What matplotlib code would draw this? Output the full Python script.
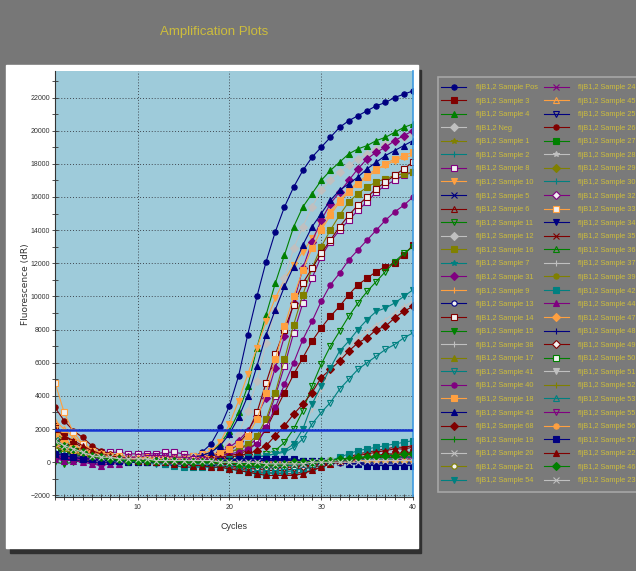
import matplotlib
matplotlib.use('Agg')
import matplotlib.pyplot as plt
import matplotlib.patches as patches
import numpy as np

# values in hundreds of dR
SCALE = 100
cycles = np.arange(1, 41)
threshold = 1950

samples = [
    'Sample Pos', 'Sample 3', 'Sample 4', 'Neg', 'Sample 1', 'Sample 2', 'Sample 8', 'Sample 10',
    'Sample 5', 'Sample 6', 'Sample 11', 'Sample 12', 'Sample 16', 'Sample 7', 'Sample 31', 'Sample 9',
    'Sample 13', 'Sample 14', 'Sample 15', 'Sample 38', 'Sample 17', 'Sample 41', 'Sample 40', 'Sample 18',
    'Sample 43', 'Sample 68', 'Sample 19', 'Sample 20', 'Sample 21', 'Sample 54',
    'Sample 24', 'Sample 45', 'Sample 25', 'Sample 26', 'Sample 27', 'Sample 28', 'Sample 29', 'Sample 30',
    'Sample 32', 'Sample 33', 'Sample 34', 'Sample 35', 'Sample 36', 'Sample 37', 'Sample 39', 'Sample 42',
    'Sample 44', 'Sample 47', 'Sample 48', 'Sample 49', 'Sample 50', 'Sample 51', 'Sample 52', 'Sample 53',
    'Sample 55', 'Sample 56', 'Sample 57', 'Sample 22', 'Sample 46', 'Sample 23',
]

markers = [
    'o', 's', '^', 'D', '*', '+', 's', 'v', 'x', '^', 'v', 'D', 's', '*', 'D',
    '+', 'o', 's', 'v', '+', '^', 'v', 'o', 's', '^', 'D', '+', 'x', 'o', 'v',
    'x', '^', 'v', 'o', 's', '*', 'D', '+', 'D', 's', 'v', 'x', '^', '+', 'o',
    's', '^', 'D', '+', 'D', 's', 'v', '+', '^', 'v', 'o', 's', '^', 'D', 'x',
]
hollow = {'Sample 8', 'Sample 6', 'Sample 11', 'Sample 13', 'Sample 14', 'Sample 41', 'Sample 21',
          'Sample 45', 'Sample 25', 'Sample 32', 'Sample 33', 'Sample 36', 'Sample 49', 'Sample 50',
          'Sample 53', 'Sample 55'}

palette = ['#000080', '#800000', '#008000', '#c0c0c0', '#808000', '#008080', '#800080', '#ffa040']

fluor = [
    # Pos
    [12, 8, 6, 4, 3, 3, 2, 2, 2, 1, 1, 1, 2, 2, 2, 3, 6, 11, 21, 34,
     52, 77, 100, 121, 139, 154, 166, 176, 184, 190, 196, 202, 206, 209, 212, 215, 217, 220, 222, 224],
    # 3
    [22, 16, 12, 9, 6, 4, 3, 2, 2, 1, 1, 1, 1, 1, 1, 1, 2, 2, 3, 4,
     5, 7, 12, 20, 31, 42, 53, 63, 73, 81, 88, 94, 101, 107, 111, 115, 118, 120, 125, 131],
    # 4
    [16, 11, 8, 5, 3, 2, 2, 1, 1, 1, 1, 1, 1, 2, 2, 3, 4, 6, 11, 19,
     30, 46, 69, 89, 108, 125, 142, 154, 162, 170, 176, 181, 186, 189, 191, 194, 196, 199, 202, 204],
    # Neg
    [9, 7, 5, 4, 3, 2, 2, 1, 1, 1, 1, 1, 1, 1, 0, 0, 0, 0, 0, 0,
     0, 0, 0, 0, 0, 0, 0, 0, 0, 0, 0, 0, 1, 1, 1, 1, 1, 1, 1, 1],
    # 1
    [17, 13, 10, 7, 5, 4, 3, 3, 2, 2, 2, 2, 1, 1, 1, 1, 1, 1, 0, 0,
     0, 0, 0, 0, 0, 0, 0, 0, 0, 0, 0, 0, 1, 1, 1, 1, 1, 1, 1, 1],
    # 2
    [11, 8, 6, 4, 3, 2, 2, 1, 1, 1, 0, 0, 0, -1, -1, -1, -1, -1, -1, -2,
     -2, -2, -2, -2, -2, -1, -1, -1, 0, 0, 1, 1, 2, 2, 2, 3, 3, 3, 3, 4],
    # 8
    [8, 6, 5, 5, 6, 6, 6, 6, 5, 5, 5, 5, 6, 6, 5, 4, 4, 4, 5, 6,
     8, 10, 14, 24, 40, 58, 78, 96, 111, 124, 133, 140, 146, 152, 157, 163, 167, 170, 173, 175],
    # 10
    [20, 14, 9, 6, 4, 3, 3, 2, 2, 2, 2, 2, 2, 3, 3, 4, 5, 7, 12, 23,
     37, 53, 69, 85, 99, 110, 119, 127, 135, 143, 151, 158, 164, 169, 173, 177, 179, 182, 184, 185],
    # 5
    [15, 11, 8, 6, 4, 3, 2, 2, 1, 1, 1, 1, 0, 0, 0, 0, 0, 0, 0, 0,
     1, 1, 1, 1, 1, 1, 1, 0, 0, 0, 0, 0, 0, -1, -1, -1, -1, -1, -1, -1],
    # 6
    [13, 10, 8, 6, 4, 3, 3, 2, 2, 2, 2, 1, 1, 1, 1, 0, 0, 0, 0, -1,
     -1, -2, -2, -2, -2, -2, -2, -1, -1, 0, 0, 1, 1, 2, 2, 3, 3, 3, 4, 4],
    # 11
    [8, 6, 4, 3, 2, 1, 1, 0, 0, 0, 0, 0, 0, 1, 1, 1, 1, 1, 1, 2,
     2, 3, 4, 5, 7, 12, 20, 31, 46, 59, 70, 79, 88, 96, 103, 109, 115, 121, 126, 130],
    # 12
    [14, 10, 7, 5, 4, 3, 3, 2, 2, 2, 2, 2, 2, 2, 3, 3, 4, 5, 7, 11,
     17, 31, 49, 72, 92, 111, 129, 142, 154, 164, 170, 175, 179, 183, 186, 189, 192, 194, 196, 198],
    # 16
    [11, 8, 6, 4, 3, 3, 2, 2, 2, 2, 1, 1, 1, 1, 2, 2, 2, 3, 4, 6,
     8, 11, 16, 26, 42, 62, 83, 101, 117, 130, 140, 149, 157, 162, 166, 169, 171, 173, 174, 175],
    # 7
    [9, 7, 5, 4, 3, 2, 2, 1, 1, 0, 0, 0, -1, -2, -3, -3, -2, -2, -2, -2,
     -2, -3, -3, -3, -2, -2, -1, -1, 0, 0, 1, 1, 2, 3, 3, 4, 4, 5, 5, 6],
    # 31
    [3, 2, 2, 1, 0, -1, 0, 1, 1, 1, 1, 1, 1, 1, 2, 2, 3, 4, 6, 9,
     13, 19, 28, 39, 57, 76, 96, 117, 133, 146, 156, 163, 170, 177, 183, 187, 190, 194, 197, 200],
    # 9
    [14, 11, 8, 6, 4, 3, 3, 2, 2, 2, 2, 2, 1, 1, 1, 1, 1, 1, 1, 0,
     0, 0, 0, -1, -1, -1, -1, 0, 0, 0, 1, 1, 1, 1, 2, 2, 2, 2, 2, 2],
    # 13
    [3, 2, 1, 1, 0, 0, 0, 0, 0, 0, 0, 0, 0, 0, 0, 0, 0, 0, 0, 0,
     0, 1, 1, 1, 1, 1, 1, 1, 1, 0, 0, 0, 0, 0, 0, 0, 1, 1, 1, 1],
    # 14
    [10, 8, 6, 5, 4, 3, 2, 2, 2, 2, 1, 1, 1, 2, 2, 2, 3, 4, 5, 7,
     11, 18, 30, 48, 65, 80, 95, 108, 117, 126, 134, 142, 149, 155, 160, 165, 169, 173, 177, 181],
    # 15
    [0, -1, 0, 1, 1, 1, 1, 1, 1, 1, 0, 0, 0, 0, 0, 0, 0, 0, -1, -1,
     -2, -2, -2, -2, -2, -2, -1, -1, 0, 0, 1, 1, 2, 2, 2, 3, 3, 3, 4, 4],
    # 38
    [10, 8, 6, 4, 3, 2, 2, 1, 1, 1, 1, 1, 1, 1, 1, 1, 1, 1, 1, 2,
     2, 3, 4, 5, 6, 8, 12, 20, 32, 44, 55, 63, 69, 75, 79, 83, 86, 90, 94, 97],
    # 17
    [8, 6, 5, 4, 3, 2, 2, 2, 1, 1, 1, 1, 1, 1, 1, 0, 0, 0, 0, 0,
     -1, -1, -1, -1, -1, -1, -1, -1, 0, 0, 0, 0, 0, 1, 1, 1, 1, 1, 2, 2],
    # 41
    [7, 5, 4, 3, 2, 1, 1, 1, 0, 0, 0, 0, -1, -1, -1, 0, 0, 0, 1, 1,
     2, 2, 3, 4, 5, 6, 9, 14, 23, 30, 36, 44, 50, 56, 60, 64, 68, 71, 75, 78],
    # 40
    [4, 3, 2, 2, 1, 1, 1, 1, 1, 1, 1, 1, 1, 1, 1, 2, 2, 3, 4, 5,
     6, 8, 11, 21, 33, 47, 60, 74, 85, 97, 107, 114, 122, 128, 134, 140, 146, 151, 155, 160],
    # 18
    [9, 7, 5, 4, 3, 2, 2, 1, 1, 1, 1, 1, 1, 1, 2, 2, 3, 4, 6, 8,
     11, 16, 26, 42, 62, 82, 100, 116, 129, 140, 149, 157, 163, 168, 172, 176, 180, 183, 185, 187],
    # 43
    [13, 9, 6, 4, 3, 2, 2, 1, 1, 1, 1, 1, 1, 2, 2, 3, 4, 6, 10, 17,
     27, 40, 58, 77, 92, 106, 118, 131, 142, 150, 158, 164, 168, 172, 177, 181, 185, 188, 191, 194],
    # 68
    [12, 9, 7, 5, 4, 3, 2, 2, 1, 1, 1, 1, 1, 1, 1, 1, 1, 2, 2, 3,
     4, 5, 7, 10, 16, 22, 29, 35, 42, 51, 56, 61, 67, 72, 75, 80, 82, 87, 91, 94],
    # 19
    [18, 13, 10, 7, 5, 4, 3, 2, 2, 1, 1, 1, 1, 0, 0, 0, 0, 0, -1, -1,
     -1, -1, -2, -2, -2, -1, -1, -1, 0, 0, 1, 1, 1, 2, 2, 2, 3, 3, 3, 3],
    # 20
    [14, 10, 7, 5, 4, 3, 2, 2, 2, 1, 1, 1, 1, 1, 1, 1, 1, 0, 0, 0,
     0, 0, 0, 0, 0, 0, 0, 0, 0, 0, 0, 1, 1, 1, 1, 1, 2, 2, 2, 2],
    # 21
    [12, 10, 8, 6, 5, 4, 3, 3, 2, 2, 2, 2, 2, 1, 1, 1, 1, 1, 1, 1,
     0, 0, 0, 0, 0, 0, 0, 0, 0, 0, 0, 0, 0, 0, 0, 1, 1, 1, 1, 1],
    # 54
    [6, 5, 4, 3, 2, 1, 1, 0, 0, 0, 0, -1, -1, -1, 0, 0, 0, 1, 1, 2,
     2, 3, 3, 4, 5, 7, 11, 20, 35, 46, 57, 67, 73, 80, 86, 91, 93, 96, 100, 104],
    # 24
    [6, 5, 4, 3, 2, 1, 1, 1, 1, 1, 1, 0, 0, 0, 0, 0, 0, 0, 0, 0,
     0, -1, -1, -1, -1, -1, -1, 0, 0, 0, 0, 1, 1, 1, 1, 1, 2, 2, 2, 2],
    # 45
    [25, 20, 15, 11, 8, 6, 5, 4, 3, 3, 3, 3, 2, 2, 2, 2, 1, 1, 1, 1,
     0, 0, 0, 0, 0, 0, 0, 0, 0, 0, 0, 1, 1, 1, 1, 1, 1, 2, 2, 2],
    # 25
    [12, 9, 7, 5, 3, 2, 2, 1, 1, 1, 1, 0, 0, 0, 0, 0, 0, 0, 0, 1,
     1, 2, 2, 2, 2, 2, 1, 1, 1, 0, 0, 0, -1, -1, -1, -2, -2, -2, -2, -2],
    # 26
    [33, 25, 19, 15, 10, 7, 5, 4, 3, 2, 2, 1, 1, 1, 0, 0, 0, -1, -2, -3,
     -4, -5, -6, -6, -7, -7, -7, -6, -5, -3, -1, 1, 3, 5, 6, 7, 8, 9, 9, 10],
    # 27
    [16, 12, 9, 7, 5, 4, 3, 3, 2, 2, 2, 1, 1, 1, 1, 1, 0, 0, 0, 0,
     -1, -1, -1, -2, -2, -2, -1, -1, 0, 0, 1, 1, 2, 2, 3, 3, 4, 4, 5, 5],
    # 28
    [11, 9, 7, 5, 4, 3, 2, 2, 1, 1, 1, 1, 1, 1, 1, 1, 0, 0, 0, 0,
     0, -1, -1, -1, -1, -1, -1, -1, -1, 0, 0, 0, 0, 1, 1, 1, 1, 1, 1, 1],
    # 29
    [10, 8, 6, 5, 4, 3, 3, 2, 2, 2, 1, 1, 1, 1, 1, 1, 0, 0, 0, 0,
     0, 0, 0, -1, -1, -1, -1, -1, 0, 0, 0, 0, 0, 1, 1, 1, 1, 1, 2, 2],
    # 30
    [13, 10, 7, 5, 4, 3, 2, 2, 1, 1, 1, 0, 0, 0, -1, -1, -1, -1, -1, -1,
     -1, -1, -1, -1, -1, -1, -1, 0, 0, 0, 1, 1, 1, 2, 2, 2, 2, 3, 3, 3],
    # 32
    [4, 3, 3, 2, 2, 2, 2, 2, 3, 3, 3, 3, 3, 2, 2, 2, 1, 1, 1, 0,
     0, 0, 0, -1, -1, -1, -1, -1, 0, 0, 0, 0, 1, 1, 1, 1, 1, 2, 2, 2],
    # 33
    [48, 30, 18, 11, 7, 5, 4, 4, 3, 3, 3, 2, 2, 2, 2, 2, 1, 1, 1, 1,
     0, 0, -1, -1, -1, -1, -1, 0, 0, 0, 1, 1, 2, 2, 3, 3, 3, 4, 4, 4],
    # 34
    [10, 8, 6, 4, 3, 2, 1, 1, 1, 0, 0, 0, 0, 0, 0, 0, 0, 0, 1, 1,
     2, 2, 2, 2, 2, 1, 1, 1, 1, 0, 0, 0, 0, 0, 0, 0, 0, 0, 0, 0],
    # 35
    [15, 12, 9, 7, 5, 4, 3, 2, 2, 2, 1, 1, 1, 1, 0, 0, 0, -1, -1, -2,
     -3, -4, -4, -5, -5, -5, -4, -4, -3, -2, -1, 0, 1, 2, 3, 4, 5, 5, 6, 6],
    # 36
    [9, 7, 5, 4, 3, 2, 2, 1, 1, 1, 1, 1, 0, 0, 0, 0, 0, 0, 0, -1,
     -1, -1, -1, -1, -1, -1, -1, 0, 0, 0, 1, 1, 1, 2, 2, 2, 3, 3, 3, 3],
    # 37
    [12, 9, 7, 5, 4, 3, 3, 2, 2, 2, 2, 1, 1, 1, 1, 1, 1, 1, 1, 1,
     1, 1, 1, 1, 1, 1, 0, 0, 0, 0, 0, 0, 0, 0, 0, 0, 0, 0, 0, 0],
    # 39
    [7, 6, 5, 4, 3, 3, 2, 2, 2, 1, 1, 1, 1, 1, 0, 0, 0, 0, 0, 0,
     0, 0, 0, 0, 0, 0, 0, 0, 0, 0, 1, 1, 1, 1, 1, 1, 1, 2, 2, 2],
    # 42
    [14, 11, 8, 6, 5, 4, 3, 2, 1, 1, 0, 0, -1, -2, -3, -3, -3, -3, -3, -4,
     -5, -6, -7, -7, -6, -6, -5, -4, -3, -1, 1, 3, 5, 7, 8, 9, 10, 11, 12, 13],
    # 44
    [2, 1, 1, 0, -1, -2, -1, -1, 0, 0, 0, 0, 0, 0, 0, 0, 0, 0, 0, 0,
     0, 0, 0, 0, 0, 0, 0, 0, 0, 1, 1, 1, 2, 2, 2, 2, 3, 3, 3, 3],
    # 47
    [17, 13, 10, 8, 6, 5, 4, 3, 2, 2, 2, 1, 1, 1, 1, 1, 1, 0, 0, 0,
     0, 0, 0, 0, 0, 0, 0, 0, 0, 0, 1, 1, 1, 1, 1, 1, 2, 2, 2, 2],
    # 48
    [8, 6, 5, 4, 3, 2, 2, 1, 1, 1, 1, 1, 1, 1, 0, 0, 0, 0, 0, 1,
     1, 1, 1, 1, 1, 1, 1, 1, 0, 0, 0, 0, 0, 0, 0, 0, 0, 0, 0, 0],
    # 49
    [10, 8, 6, 5, 4, 3, 2, 2, 2, 1, 1, 1, 1, 0, 0, 0, 0, 0, -1, -1,
     -2, -2, -3, -3, -3, -3, -3, -2, -2, -1, 0, 1, 1, 2, 3, 3, 4, 4, 5, 5],
    # 50
    [7, 6, 5, 4, 3, 3, 2, 2, 2, 1, 1, 1, 1, 1, 0, 0, 0, 0, 0, 0,
     -1, -1, -1, -1, -1, -1, -1, 0, 0, 0, 0, 1, 1, 1, 2, 2, 2, 2, 2, 3],
    # 51
    [10, 8, 6, 4, 3, 3, 2, 2, 2, 1, 1, 1, 1, 1, 1, 0, 0, 0, 0, 0,
     0, 0, 0, 0, 0, 0, 0, 0, 0, 0, 1, 1, 1, 1, 1, 2, 2, 2, 2, 2],
    # 52
    [9, 7, 6, 4, 3, 3, 2, 2, 2, 1, 1, 1, 1, 1, 1, 1, 1, 0, 0, 0,
     0, 0, 0, 0, 0, 0, 0, 0, 0, 0, 0, 0, 0, 0, 1, 1, 1, 1, 1, 1],
    # 53
    [6, 5, 4, 3, 2, 2, 1, 1, 1, 0, 0, 0, -1, -1, -1, -1, -1, -1, -2, -2,
     -2, -3, -3, -3, -3, -2, -2, -1, -1, 0, 0, 1, 1, 1, 2, 2, 2, 2, 3, 3],
    # 55
    [5, 4, 3, 3, 2, 2, 2, 2, 3, 3, 4, 4, 4, 3, 3, 2, 2, 1, 1, 1,
     0, 0, 0, 0, 0, -1, -1, -1, 0, 0, 0, 0, 1, 1, 1, 1, 1, 1, 2, 2],
    # 56
    [11, 9, 7, 5, 4, 3, 3, 2, 2, 2, 2, 1, 1, 1, 1, 1, 1, 1, 1, 1,
     0, 0, 0, 0, 0, 0, 0, 0, 0, 0, 0, 0, 0, 1, 1, 1, 1, 1, 1, 1],
    # 57
    [5, 4, 3, 2, 2, 1, 1, 1, 0, 0, 0, 0, 0, 0, 0, 0, 0, 0, 1, 1,
     1, 2, 2, 2, 2, 2, 2, 1, 1, 1, 0, 0, -1, -1, -2, -2, -2, -2, -2, -2],
    # 22
    [20, 16, 13, 10, 7, 5, 4, 3, 2, 1, 1, 0, 0, -1, -1, -2, -2, -3, -3, -4,
     -5, -6, -7, -8, -8, -8, -8, -7, -5, -3, -1, 1, 2, 4, 5, 6, 7, 8, 8, 9],
    # 46
    [12, 10, 8, 6, 4, 3, 2, 2, 1, 1, 1, 1, 1, 1, 0, 0, 0, 0, 0, 0,
     -1, -1, -1, -1, -1, -1, 0, 0, 0, 1, 1, 2, 2, 3, 3, 4, 4, 4, 5, 5],
    # 23
    [13, 10, 8, 6, 4, 3, 3, 2, 2, 2, 2, 1, 1, 1, 1, 1, 1, 1, 0, 0,
     0, 0, 0, -1, -1, -1, -1, -1, 0, 0, 0, 0, 0, 0, 1, 1, 1, 1, 1, 1],
]

bad = [samples[i] for i, v in enumerate(fluor) if len(v) != len(cycles)]
if bad or len(fluor) != len(samples):
    raise ValueError(f'bad series: {bad} {len(fluor)}')

narrow = ['Liberation Sans Narrow', 'Liberation Sans', 'DejaVu Sans']
fig_bg = '#777777'
yellow = '#cdbd3c'

fig = plt.figure(figsize=(6.36, 5.71), dpi=100, facecolor=fig_bg)

# white panel with a dark drop shadow, and the legend box
fig.patches.append(patches.Rectangle((10 / 636, 1 - 553 / 571), 411 / 636, 483 / 571,
                                     transform=fig.transFigure, color='#303030', zorder=0))
fig.patches.append(patches.Rectangle((6 / 636, 1 - 548 / 571), 412 / 636, 483 / 571,
                                     transform=fig.transFigure, color='white', zorder=0.5))
fig.patches.append(patches.Rectangle((438 / 636, 1 - 492 / 571), 300 / 636, 415 / 571,
                                     transform=fig.transFigure, facecolor='#7a7a7a',
                                     edgecolor='#a6a6a6', lw=1.2, zorder=0.5))

fig.text(214 / 636, 1 - 32 / 571, 'Amplification Plots', color=yellow, fontsize=9.5,
         ha='center', va='center', family=narrow)

ax = fig.add_axes([55 / 636, 1 - 497 / 571, 358 / 636, 426 / 571])
ax.set_zorder(2)
ax.set_facecolor('#9ecbda')

handles = []
for i, (name, vals) in enumerate(zip(samples, fluor)):
    col = palette[i % len(palette)]
    mk = markers[i]
    if name in hollow:
        mfc = 'none' if mk in ('^', 'v') else '#f2f2f2'
    else:
        mfc = col
    line, = ax.plot(cycles, np.array(vals) * SCALE, color=col, lw=0.8, marker=mk,
                    ms=3.8, mfc=mfc, mec=col, mew=0.8)
    handles.append(line)

ax.axhline(threshold, color='#1434d2', lw=1.8, zorder=5)

ax.set_xlim(1, 40)
ax.set_ylim(-2100, 23600)
ax.set_xticks([10, 20, 30, 40])
ax.set_xticks(np.arange(1, 41), minor=True)
ax.set_yticks(np.arange(-2000, 22001, 2000))
ax.set_yticks(np.arange(-2000, 23001, 1000), minor=True)
ax.tick_params(which='both', direction='inout', length=4, width=0.6, colors='#333333',
               labelsize=5, pad=1.5)
ax.tick_params(axis='x', pad=3)
for lab in ax.get_xticklabels() + ax.get_yticklabels():
    lab.set_family(narrow)
ax.grid(True, which='major', color='#404850', linestyle=(0, (1, 2)), linewidth=0.7)
ax.spines['top'].set_visible(False)
ax.spines['right'].set_color('#3d9ae0')
ax.spines['right'].set_linewidth(1.2)
ax.spines['left'].set_color('#333333')
ax.spines['bottom'].set_color('#333333')

ax.set_xlabel('Cycles', fontsize=6.5, color='#333333', family=narrow, labelpad=8)
ax.set_ylabel('Fluorescence (dR)', fontsize=6.5, color='#333333', labelpad=7)
ax.yaxis.set_label_coords(-25 / 358, 0.5)

labels = ['fljB1,2 ' + s for s in samples]
leg = fig.legend(handles, labels, ncol=2, loc='upper left',
                 bbox_to_anchor=(441 / 636, 1 - 84 / 571), borderaxespad=0,
                 prop={'family': narrow, 'size': 5.3}, labelcolor=yellow,
                 frameon=False, handlelength=3.4, handletextpad=1.3, columnspacing=0.85,
                 labelspacing=0.87, borderpad=0)
leg.set_zorder(3)

fig.savefig('out.png', dpi=100, facecolor=fig_bg)
